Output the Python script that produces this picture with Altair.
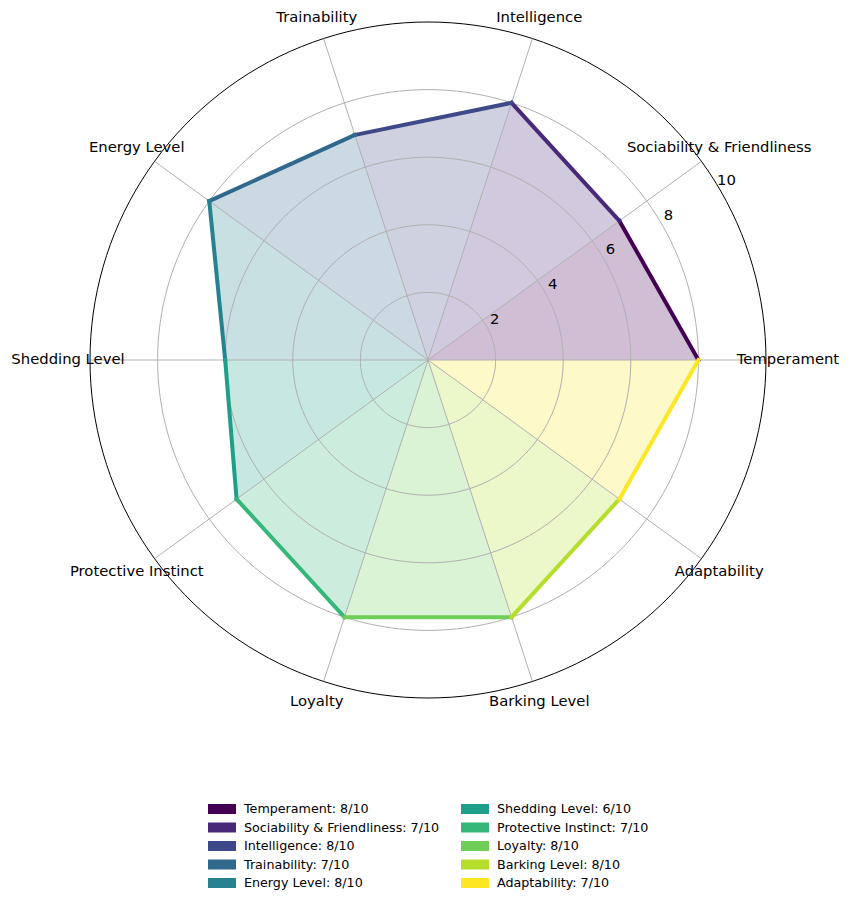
import numpy as np
import pandas as pd
import altair as alt

# Breed profile scores (0-10 scale)
categories = ["Temperament", "Sociability & Friendliness", "Intelligence", "Trainability",
              "Energy Level", "Shedding Level", "Protective Instinct", "Loyalty",
              "Barking Level", "Adaptability"]
scores = [8, 7, 8, 7, 8, 6, 7, 8, 8, 7]
max_score = 10
ring_ticks = [2, 4, 6, 8, 10]
palette = ["#440154", "#482878", "#3e4989", "#31688e", "#26828e",
           "#1f9e89", "#35b779", "#6ece58", "#b5de2b", "#fde725"]

# layout constants (pixels)
W, H = 850, 906
CX, CY = 428, 360          # centre of the radar
PX_PER_UNIT = 33.8         # pixels per score unit
LABEL_R = 10.65            # radius of the category labels (score units)
FONT = "DejaVu Sans"

# legend block: two columns of five entries
LEG_ROWS = 5
LEG_X0, LEG_COL_W = 208, 253
LEG_Y0, LEG_ROW_H = 809, 18.5
SWATCH_W, SWATCH_H, LABEL_GAP = 28, 10, 8

n = len(categories)
step = 360 / n
series = [f"{c}: {s}/{max_score}" for c, s in zip(categories, scores)]

# one triangle (centre, point i, point i+1) and one edge per category
fill_rows, edge_rows = [], []
for i in range(n):
    j = (i + 1) % n
    fill_rows += [
        {"series": series[i], "k": 0, "r": 0, "deg": i * step},
        {"series": series[i], "k": 1, "r": scores[i], "deg": i * step},
        {"series": series[i], "k": 2, "r": scores[j], "deg": (i + 1) * step},
    ]
    edge_rows += [
        {"series": series[i], "k": 0, "r": scores[i], "deg": i * step},
        {"series": series[i], "k": 1, "r": scores[j], "deg": (i + 1) * step},
    ]
fills = pd.DataFrame(fill_rows)
edges = pd.DataFrame(edge_rows)

spokes = pd.DataFrame({"deg": [i * step for i in range(n)], "r": max_score, "r0": 0})
label_df = pd.DataFrame({"cat": categories, "deg": [i * step for i in range(n)], "r": LABEL_R})

ring_deg = np.arange(0, 361, 2)
rings = pd.DataFrame([{"ring": t, "r": t, "deg": float(d)} for t in ring_ticks for d in ring_deg])
tick_df = pd.DataFrame({"txt": [str(t) for t in ring_ticks],
                        "r": [t + 0.3 for t in ring_ticks], "deg": 31.0})

legend_df = pd.DataFrame({"series": series,
                          "col": [i // LEG_ROWS for i in range(n)],
                          "row": [i % LEG_ROWS for i in range(n)]})

xs = alt.Scale(domain=[-CX / PX_PER_UNIT, (W - CX) / PX_PER_UNIT], nice=False, zero=False)
ys = alt.Scale(domain=[-(H - CY) / PX_PER_UNIT, CY / PX_PER_UNIT], nice=False, zero=False)
X = alt.X("x:Q", scale=xs, axis=None)
Y = alt.Y("y:Q", scale=ys, axis=None)
colour_scale = alt.Scale(domain=series, range=palette)


def polar(chart, rfield="r"):
    return chart.transform_calculate(
        x=f"datum.{rfield} * cos(datum.deg * PI / 180)",
        y=f"datum.{rfield} * sin(datum.deg * PI / 180)",
    )


fill_layer = polar(alt.Chart(fills)).mark_line(
    fillOpacity=0.25, strokeWidth=0, interpolate="linear-closed"
).encode(
    x=X, y=Y,
    fill=alt.Fill("series:N", scale=colour_scale, legend=None),
    detail="series:N",
    order="k:Q",
)

grid_layer = polar(alt.Chart(rings[rings.ring < max_score])).mark_line(
    stroke="#b0b0b0", strokeWidth=1
).encode(x=X, y=Y, detail="ring:N", order="deg:Q")

outer_layer = polar(alt.Chart(rings[rings.ring == max_score])).mark_line(
    stroke="black", strokeWidth=1
).encode(x=X, y=Y, order="deg:Q")

spoke_layer = alt.Chart(spokes).transform_calculate(
    x="datum.r * cos(datum.deg * PI / 180)",
    y="datum.r * sin(datum.deg * PI / 180)",
    x0="datum.r0 * cos(datum.deg * PI / 180)",
    y0="datum.r0 * sin(datum.deg * PI / 180)",
).mark_rule(stroke="#b0b0b0", strokeWidth=1).encode(
    x=alt.X("x0:Q", scale=xs, axis=None), y=alt.Y("y0:Q", scale=ys, axis=None),
    x2="x:Q", y2="y:Q",
)

edge_layer = polar(alt.Chart(edges)).mark_line(strokeWidth=4, strokeCap="square").encode(
    x=X, y=Y,
    color=alt.Color("series:N", scale=colour_scale, legend=None),
    detail="series:N",
    order="k:Q",
)

cat_text = polar(alt.Chart(label_df)).mark_text(
    font=FONT, fontSize=14.8, color="black", align="center", baseline="middle"
).encode(x=X, y=Y, text="cat:N")

tick_text = polar(alt.Chart(tick_df)).mark_text(
    font=FONT, fontSize=14.8, color="black", align="center", baseline="middle"
).encode(x=X, y=Y, text="txt:N")

# legend: pixel layout converted into the chart's score units
legend_base = alt.Chart(legend_df).transform_calculate(
    px=f"{LEG_X0} + datum.col * {LEG_COL_W}",
    py=f"{LEG_Y0} + datum.row * {LEG_ROW_H}",
).transform_calculate(
    sx0=f"(datum.px - {CX}) / {PX_PER_UNIT}",
    sx1=f"(datum.px + {SWATCH_W} - {CX}) / {PX_PER_UNIT}",
    tx=f"(datum.px + {SWATCH_W + LABEL_GAP} - {CX}) / {PX_PER_UNIT}",
    sy0=f"({CY} - datum.py - {SWATCH_H / 2}) / {PX_PER_UNIT}",
    sy1=f"({CY} - datum.py + {SWATCH_H / 2}) / {PX_PER_UNIT}",
    ty=f"({CY} - datum.py) / {PX_PER_UNIT}",
)

legend_swatch = legend_base.mark_rect().encode(
    x=alt.X("sx0:Q", scale=xs, axis=None), x2="sx1:Q",
    y=alt.Y("sy0:Q", scale=ys, axis=None), y2="sy1:Q",
    color=alt.Color("series:N", scale=colour_scale, legend=None),
)

legend_text = legend_base.mark_text(
    font=FONT, fontSize=12.7, color="black", align="left", baseline="middle"
).encode(
    x=alt.X("tx:Q", scale=xs, axis=None),
    y=alt.Y("ty:Q", scale=ys, axis=None),
    text="series:N",
)

chart = alt.layer(
    fill_layer, grid_layer, spoke_layer, outer_layer, edge_layer, cat_text, tick_text,
    legend_swatch, legend_text,
).properties(
    width=W, height=H, autosize=alt.AutoSizeParams(type="none"), padding=0,
    background="white",
).configure_view(stroke=None)

chart.save("out.html", embed_options={"renderer": "svg", "actions": False})
